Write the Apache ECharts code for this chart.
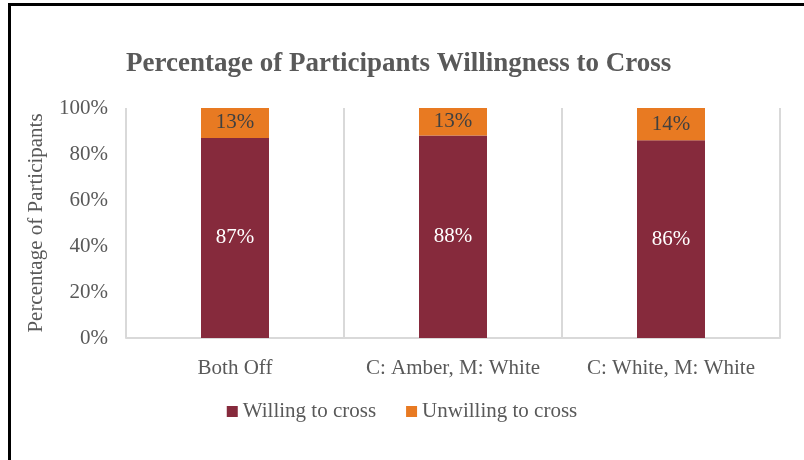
<!DOCTYPE html>
<html>
<head>
<meta charset="utf-8">
<script src="https://cdn.jsdelivr.net/npm/echarts@6/dist/echarts.min.js"></script>
<style>
  html, body { margin: 0; padding: 0; background: #fff; }
  #frame { position: absolute; left: 0; top: 0; width: 804px; height: 460px; }
  #edge { position: absolute; left: 8px; top: 3px; width: 796px; height: 457px;
          border-left: 3px solid #000; border-top: 3px solid #000; box-sizing: border-box; pointer-events: none; }
  #chart { position: absolute; left: 0; top: 0; width: 804px; height: 460px; }
</style>
</head>
<body>
<div id="frame">
  <div id="chart"></div>
  <div id="edge"></div>
</div>
<script>
const categories = ['Both Off', 'C: Amber, M: White', 'C: White, M: White'];
const willing = [87, 88, 86];
const unwilling = [13, 13, 14];
const yTicks = ['0%', '20%', '40%', '60%', '80%', '100%'];

const serif = '"Liberation Serif", "Times New Roman", serif';
const grey = '#595959';
const fs = 21;

const chart = echarts.init(document.getElementById('chart'), null, { renderer: 'canvas' });
chart.setOption({
  animation: false,
  backgroundColor: '#fff',
  title: {
    text: 'Percentage of Participants Willingness to Cross',
    left: 121,
    top: 46,
    textStyle: { fontFamily: serif, fontWeight: 'bold', fontSize: 27, color: grey }
  },
  legend: {
    bottom: 33,
    left: 'center',
    itemWidth: 11,
    itemHeight: 11,
    itemGap: 30,
    icon: 'rect',
    textStyle: { fontFamily: serif, fontSize: fs, color: grey }
  },
  grid: { left: 126, right: 24, top: 108, bottom: 122, containLabel: false },
  xAxis: {
    type: 'category',
    data: categories,
    axisLine: { lineStyle: { color: '#d9d9d9', width: 2 } },
    axisTick: { show: false },
    splitLine: { show: true, interval: 0, lineStyle: { color: '#d9d9d9', width: 2 } },
    axisLabel: { interval: 0, fontFamily: serif, fontSize: fs, color: grey, margin: 20 }
  },
  yAxis: {
    type: 'value',
    min: 0,
    max: 100,
    interval: 20,
    name: 'Percentage of Participants',
    nameLocation: 'middle',
    nameRotate: 90,
    nameGap: 79,
    nameTextStyle: { fontFamily: serif, fontSize: fs, color: grey },
    axisLine: { show: false },
    axisTick: { show: false },
    splitLine: { show: false },
    axisLabel: {
      fontFamily: serif, fontSize: fs, color: grey, margin: 18,
      formatter: v => yTicks[Math.round(v / 20)]
    }
  },
  series: [
    {
      name: 'Willing to cross',
      type: 'bar',
      stack: 'total',
      data: willing,
      barWidth: 68,
      itemStyle: { color: '#862a3c' },
      label: {
        show: true, position: 'inside', formatter: '{c}%',
        fontFamily: serif, fontSize: fs, color: '#ffffff'
      }
    },
    {
      name: 'Unwilling to cross',
      type: 'bar',
      stack: 'total',
      data: unwilling,
      barWidth: 68,
      itemStyle: { color: '#e87a22' },
      label: {
        show: true, position: 'inside', formatter: '{c}%',
        fontFamily: serif, fontSize: fs, color: '#404040'
      }
    }
  ]
});
</script>
</body>
</html>
